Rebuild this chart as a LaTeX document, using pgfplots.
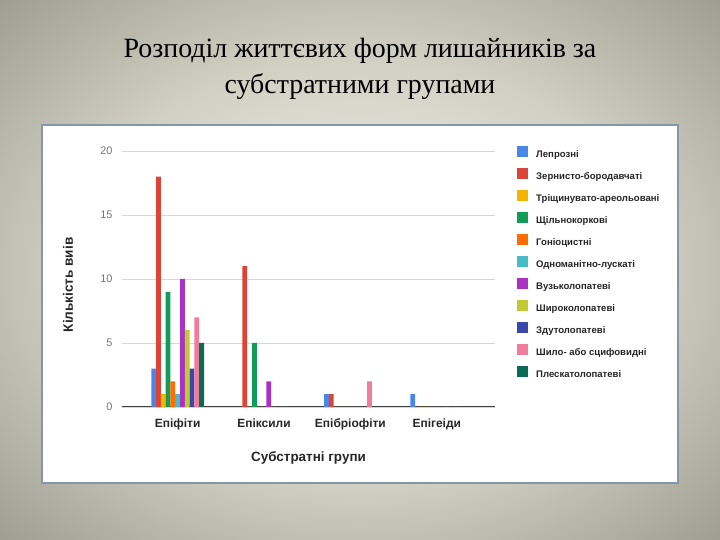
\documentclass[border=0pt]{standalone}
\usepackage{pgfplots}
\pgfplotsset{compat=1.18}
\usepackage{fontspec}
\setmainfont{Liberation Serif}
\newfontfamily\arial{Liberation Sans}
\definecolor{c1}{HTML}{4A86E8}
\definecolor{c2}{HTML}{DB4437}
\definecolor{c3}{HTML}{F4B400}
\definecolor{c4}{HTML}{0F9D58}
\definecolor{c5}{HTML}{FF6D00}
\definecolor{c6}{HTML}{46BDC6}
\definecolor{c7}{HTML}{AB30C4}
\definecolor{c8}{HTML}{C0CA33}
\definecolor{c9}{HTML}{3949AB}
\definecolor{c10}{HTML}{F07B9B}
\definecolor{c11}{HTML}{0B6B55}
\definecolor{bgin}{HTML}{F6F6F0}
\definecolor{bgmid}{HTML}{D0CFC2}
\definecolor{bgout}{HTML}{8A897E}
\definecolor{boxborder}{HTML}{8696AA}
\definecolor{gridc}{HTML}{D6D6D6}
\definecolor{tickc}{HTML}{777777}
\pgfdeclareradialshading{slidebg}{\pgfpoint{0bp}{0bp}}{color(0bp)=(bgin); color(20bp)=(bgmid); color(42bp)=(bgout); color(71bp)=(bgout)}
\begin{document}
\begin{tikzpicture}
\useasboundingbox (0,0) rectangle (720bp,540bp);
\shade[shading=slidebg] (0,0) rectangle (720bp,540bp);
\fill[white, draw=boxborder, line width=1.5bp] (42bp,57bp) rectangle (678bp,415bp);
\node[anchor=base, font=\fontsize{28}{32}\selectfont] at (360bp,482bp) {Розподіл життєвих форм лишайників за};
\node[anchor=base, font=\fontsize{28}{32}\selectfont] at (360bp,446bp) {субстратними групами};
\begin{axis}[
  at={(122bp,133bp)}, anchor=south west,
  scale only axis, width=373bp, height=256bp,
  ybar, bar width=0.0555,
  xmin=-0.644, xmax=3.674, ymin=0, ymax=20,
  xtick={0,1,2,3},
  xticklabels={Епіфіти,Епіксили,Епібріофіти,Епігеіди},
  ytick={0,5,10,15,20},
  major tick length=0pt,
  axis x line*=bottom, axis y line*=left,
  x axis line style={draw=black!75, line width=1bp, -},
  y axis line style={draw=none},
  ymajorgrids, grid style={gridc, line width=0.8bp},
  /pgf/number format/assume math mode=true,
  xticklabel style={font=\arial\bfseries\fontsize{12}{14}\selectfont, text=black!85, yshift=-8bp},
  yticklabel style={font=\arial\fontsize{11}{13}\selectfont, text=tickc, xshift=-6bp},
  xlabel={Субстратні групи},
  ylabel={Кількість виів},
  every axis x label/.style={at={(axis description cs:0.5,-0.2)}, anchor=center, font=\arial\bfseries\fontsize{13.5}{15}\selectfont, text=black!85},
  every axis y label/.style={at={(axis description cs:-0.145,0.477)}, rotate=90, anchor=center, font=\arial\bfseries\fontsize{13.6}{15}\selectfont, text=black!85},
  legend image code/.code={\fill[#1] (0bp,-2bp) rectangle (11bp,9bp);},
  legend cell align=left,
  legend style={at={(axis description cs:1.051,1.027)}, anchor=north west, draw=none, fill=none,
    font=\arial\bfseries\fontsize{9.6}{11}\selectfont, text=black!85, row sep=8.5bp,
    nodes={inner sep=0pt, text height=7bp, text depth=2bp},
    /tikz/every odd column/.append style={column sep=8bp}},
]
\addplot[fill=c1, draw=none, bar shift=-0.2775] coordinates {(0,3) (1,0) (2,1) (3,1)};
\addplot[fill=c2, draw=none, bar shift=-0.222] coordinates {(0,18) (1,11) (2,1) (3,0)};
\addplot[fill=c3, draw=none, bar shift=-0.1665] coordinates {(0,1) (1,0) (2,0) (3,0)};
\addplot[fill=c4, draw=none, bar shift=-0.111] coordinates {(0,9) (1,5) (2,0) (3,0)};
\addplot[fill=c5, draw=none, bar shift=-0.0555] coordinates {(0,2) (1,0) (2,0) (3,0)};
\addplot[fill=c6, draw=none, bar shift=0] coordinates {(0,1) (1,0) (2,0) (3,0)};
\addplot[fill=c7, draw=none, bar shift=0.0555] coordinates {(0,10) (1,2) (2,0) (3,0)};
\addplot[fill=c8, draw=none, bar shift=0.111] coordinates {(0,6) (1,0) (2,0) (3,0)};
\addplot[fill=c9, draw=none, bar shift=0.1665] coordinates {(0,3) (1,0) (2,0) (3,0)};
\addplot[fill=c10, draw=none, bar shift=0.222] coordinates {(0,7) (1,0) (2,2) (3,0)};
\addplot[fill=c11, draw=none, bar shift=0.2775] coordinates {(0,5) (1,0) (2,0) (3,0)};
\legend{Лепрозні,Зернисто-бородавчаті,Тріщинувато-ареольовані,Щільнокоркові,Гоніоцистні,Одноманітно-лускаті,Вузьколопатеві,Широколопатеві,Здутолопатеві,Шило- або сцифовидні,Плескатолопатеві}
\end{axis}
\end{tikzpicture}
\end{document}
